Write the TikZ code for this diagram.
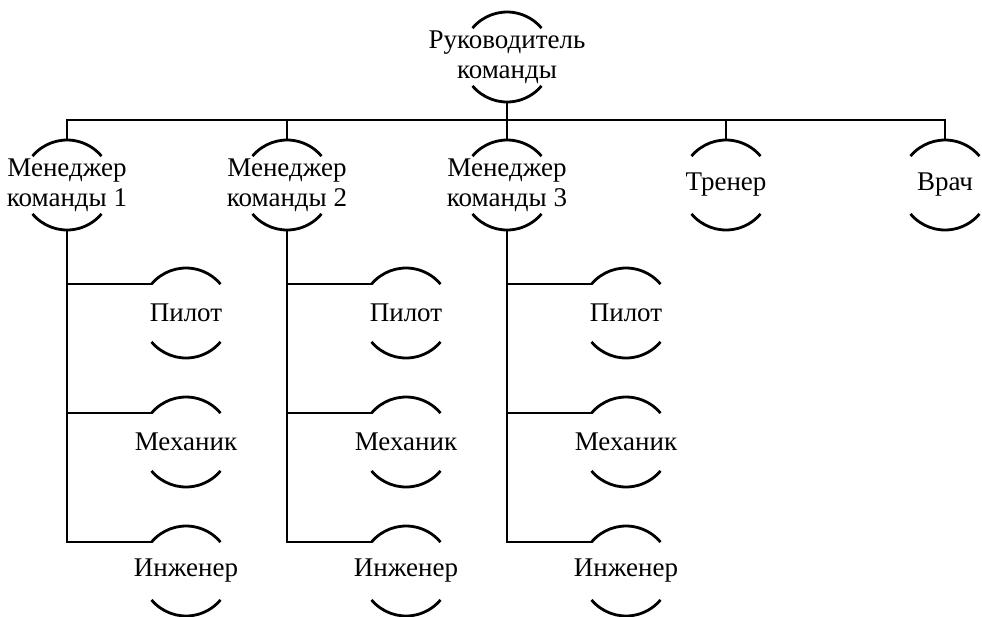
\documentclass[tikz,border=0pt]{standalone}
\usepackage{fontspec}
\setmainfont{Liberation Serif}
\newfontfamily\rolefont{Liberation Serif}

\tikzset{
  role/.style={circle, minimum size=45pt, inner sep=0pt, outer sep=0pt},
  roletext/.style={align=center, inner sep=0pt, font=\rolefont\fontsize{13.5}{15}\selectfont}
}

\begin{document}
\begin{tikzpicture}[x=0.5pt,y=-0.5pt,line width=1.4pt]
    \useasboundingbox (0,0) rectangle (982,617);
    % head of the team
    \node[role] (head) at (507,57) {};
    \node[roletext] (head-t) at (head) {Руководитель\\команды};
    \node[role] (m1) at (67,185) {};
    \node[roletext] (m1-t) at (m1) {Менеджер\\команды 1};
    \node[role] (m2) at (287,185) {};
    \node[roletext] (m2-t) at (m2) {Менеджер\\команды 2};
    \node[role] (m3) at (507,185) {};
    \node[roletext] (m3-t) at (m3) {Менеджер\\команды 3};
    \node[role] (coach) at (726,185) {};
    \node[roletext] (coach-t) at (coach) {Тренер};
    \node[role] (doctor) at (945,185) {};
    \node[roletext] (doctor-t) at (doctor) {Врач};
    % staff under each manager
    \foreach \i/\x in {1/186,2/406,3/626} {
      \node[role] (pilot\i) at (\x,313) {};
      \node[roletext] (pilot\i-t) at (pilot\i) {Пилот};
      \node[role] (mech\i) at (\x,442) {};
      \node[roletext] (mech\i-t) at (mech\i) {Механик};
      \node[role] (eng\i) at (\x,571) {};
      \node[roletext] (eng\i-t) at (eng\i) {Инженер};
    }
    % arcs above and below the text
    \foreach \n in {head,m1,m2,m3,coach,doctor,pilot1,mech1,eng1,pilot2,mech2,eng2,pilot3,mech3,eng3} {
      \draw (\n.140) arc[start angle=140, end angle=40, radius=22.5pt];
      \draw (\n.220) arc[start angle=220, end angle=320, radius=22.5pt];
    }
    % connectors
    \draw (head.south) -- ++(0,18) coordinate (bus);
    \foreach \n in {m1,m2,m3,coach,doctor}
      \draw (bus) -| (\n.north);
    \foreach \i in {1,2,3} {
      \draw (m\i.south) |- (pilot\i.140);
      \draw (m\i.south) |- (mech\i.140);
      \draw (m\i.south) |- (eng\i.140);
    }
\end{tikzpicture}
\end{document}
